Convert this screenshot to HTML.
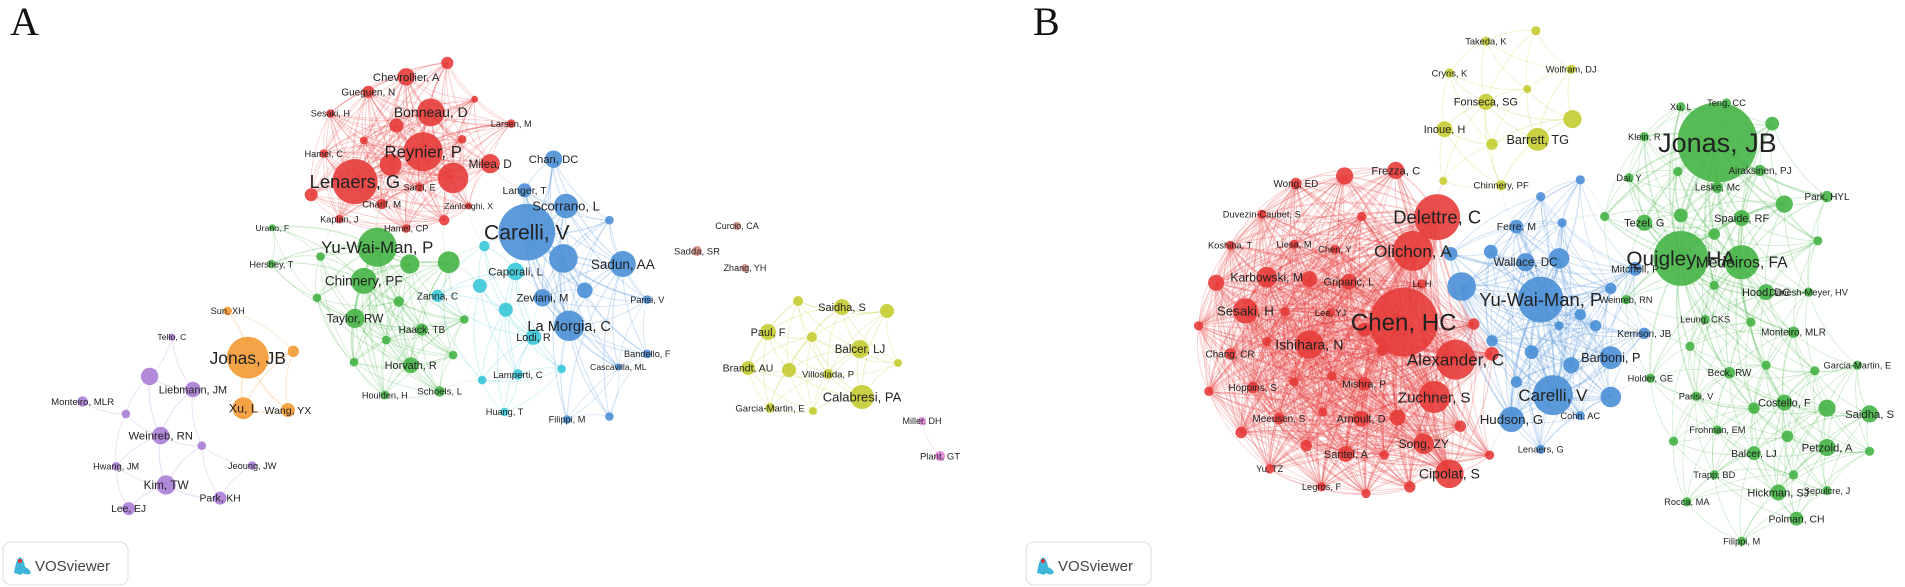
<!DOCTYPE html>
<html><head><meta charset="utf-8">
<style>
html,body{margin:0;padding:0;background:#fff;}
svg{display:block;}
text{font-family:"Liberation Sans","DejaVu Sans",sans-serif;}
</style></head>
<body>
<svg id="chart" width="1905" height="587" viewBox="0 0 1905 587">
<rect width="1905" height="587" fill="#fff"/>
<g id="edges"></g><g id="nodes"></g><g id="labels"></g>
<text x="10" y="35" font-size="40" fill="#111" style="font-family:'Liberation Serif',serif">A</text>
<text x="1033" y="35" font-size="40" fill="#111" style="font-family:'Liberation Serif',serif">B</text>
<g>
<rect x="3" y="542" width="125" height="43" rx="8" fill="#fff" stroke="#ddd"/>
<path d="M14 573 q2 -14 6 -16 q4 2 5 10 q5 2 6 6 q-4 3 -8 0 q-2 3 -5 1 z" fill="#3fb5d9"/>
<circle cx="20" cy="561" r="2" fill="#e33"/>
<text x="35" y="571" font-size="15" fill="#444">VOSviewer</text></g>
<g>
<rect x="1026" y="542" width="125" height="43" rx="8" fill="#fff" stroke="#ddd"/>
<path d="M1037 573 q2 -14 6 -16 q4 2 5 10 q5 2 6 6 q-4 3 -8 0 q-2 3 -5 1 z" fill="#3fb5d9"/>
<circle cx="1043" cy="561" r="2" fill="#e33"/>
<text x="1058" y="571" font-size="15" fill="#444">VOSviewer</text></g>
</svg>
<script>
// Panel A nodes (measured in zoom frame 1): [label, x, y, r, cluster]
const nodesA1 = [
["",1002,168,14,"red"],["Chevrollier, A",910,205,20,"red"],["Gueguen, N",825,245,14,"red"],["Sesaki, H",740,303,10,"red"],
["Bonneau, D",965,300,32,"red"],["",888,335,16,"red"],["",1063,265,8,"red"],["Larsen, M",1145,330,10,"red"],["",815,375,9,"red"],
["Reynier, P",948,405,45,"red"],["",875,440,25,"red"],["",1015,475,35,"red"],["Milea, D",1098,437,22,"red"],["Hamel, C",725,410,10,"red"],
["Lenaers, G",795,485,52,"red"],["",697,520,15,"red"],["Sarzi, E",940,500,10,"red"],["Charif, M",855,545,12,"red"],["",1035,372,10,"red"],
["Kaplan, J",760,585,10,"red"],["",995,588,12,"red"],["Hamel, CP",910,610,10,"red"],["Zanlonghi, X",1050,550,8,"red"],
["Carelli, V",1180,620,65,"blue"],["Chan, DC",1240,425,20,"blue"],["Langer, T",1175,508,16,"blue"],["Scorrano, L",1268,550,28,"blue"],
["",1365,588,10,"blue"],["",1262,690,33,"blue"],["Sadun, AA",1395,705,30,"blue"],["",1310,775,18,"blue"],["Zeviani, M",1215,795,20,"blue"],
["La Morgia, C",1275,870,35,"blue"],["Parisi, V",1450,800,10,"blue"],["Bandello, F",1450,945,10,"blue"],["",1365,1112,10,"blue"],
["Filippi, M",1270,1120,10,"blue"],["Cascavilla, ML",1385,980,8,"blue"],
["Caporali, L",1155,725,20,"cyan"],["",1085,657,12,"cyan"],["",1075,763,16,"cyan"],["",1133,827,16,"cyan"],["Zanna, C",980,790,14,"cyan"],
["Lodi, R",1195,900,18,"cyan"],["",1080,1015,10,"cyan"],["Huang, T",1130,1100,10,"cyan"],["",1258,985,10,"cyan"],["Lamperti, C",1160,1000,12,"cyan"],
["Yu-Wai-Man, P",845,660,45,"green"],["",918,705,22,"green"],["",1005,700,25,"green"],["Chinnery, PF",815,750,30,"green"],["",718,685,10,"green"],
["Hershey, T",608,705,10,"green"],["Urano, F",610,608,8,"green"],["",710,795,10,"green"],["",893,805,12,"green"],["Taylor, RW",795,850,22,"green"],
["Haack, TB",945,880,14,"green"],["",865,908,10,"green"],["",1040,853,10,"green"],["",793,967,10,"green"],["Horvath, R",920,975,18,"green"],
["",1015,948,10,"green"],["Houlden, H",862,1055,10,"green"],["Schoels, L",985,1045,12,"green"],
["Jonas, JB",555,955,48,"orange"],["",657,938,13,"orange"],["Sun, XH",510,830,10,"orange"],["Xu, L",545,1090,25,"orange"],["Wang, YX",645,1095,16,"orange"],
["",335,1005,20,"purple"],["Tello, C",385,900,8,"purple"],["Liebmann, JM",432,1040,18,"purple"],["Monteiro, MLR",185,1072,12,"purple"],
["",282,1105,10,"purple"],["Weinreb, RN",360,1163,20,"purple"],["",452,1190,10,"purple"],["Hwang, JM",260,1245,10,"purple"],
["Jeoung, JW",565,1243,10,"purple"],["Kim, TW",372,1295,22,"purple"],["Park, KH",493,1330,15,"purple"],["Lee, EJ",288,1358,15,"purple"]
];
// Panel A right part (original pixel frame)
const nodesA2 = [
["Sadda, SR",697,251,5,"salmon"],["Curcio, CA",737,226,4,"salmon"],["Zhang, YH",745,268,4,"salmon"],
["",798,301,5,"yellow"],["Saidha, S",842,307,8,"yellow"],["",887,311,7,"yellow"],["Paul, F",768,332,8,"yellow"],["",812,337,5,"yellow"],
["Balcer, LJ",860,349,9,"yellow"],["Brandt, AU",748,368,7,"yellow"],["",789,370,7,"yellow"],["Villoslada, P",828,374,5,"yellow"],
["",898,363,4,"yellow"],["Calabresi, PA",862,397,12,"yellow"],["Garcia-Martin, E",770,408,5,"yellow"],["",813,411,4,"yellow"],
["Miller, DH",922,421,4,"pink"],["Plant, GT",940,456,5,"pink"]
];
// Panel B nodes (zoom frame 2)
const nodesB = [
["",962,82,8,"yellow"],["Takeda, K",880,110,8,"yellow"],["Cryns, K",820,195,8,"yellow"],["Wolfram, DJ",1020,185,8,"yellow"],["",948,238,7,"yellow"],
["Fonseca, SG",880,272,14,"yellow"],["",1022,318,16,"yellow"],["Inoue, H",812,345,14,"yellow"],["Barrett, TG",965,372,20,"yellow"],["",890,385,10,"yellow"],
["",810,483,7,"yellow"],["Chinnery, PF",905,495,9,"yellow"],
["Jonas, JB",1260,380,70,"green"],["Xu, L",1200,285,8,"green"],["Teng, CC",1275,275,8,"green"],["Klein, R",1140,365,8,"green"],["",1350,330,12,"green"],
["Airaksinen, PJ",1330,455,10,"green"],["",1195,458,8,"green"],["Dai, Y",1115,475,8,"green"],["Leske, Mc",1260,500,10,"green"],["",1370,545,15,"green"],
["Park, HYL",1440,525,10,"green"],["",1200,575,12,"green"],["",1075,578,8,"green"],["Tezel, G",1140,595,14,"green"],["Spaide, RF",1300,582,14,"green"],
["",1255,625,10,"green"],["Quigley, HA",1200,690,48,"green"],["Medeiros, FA",1300,700,30,"green"],["",1425,643,8,"green"],["",1255,762,8,"green"],
["Weinreb, RN",1110,800,8,"green"],["Hood, DC",1340,780,14,"green"],["Danesh-Meyer, HV",1410,780,8,"green"],["Leung, CKS",1240,853,8,"green"],
["",1315,860,8,"green"],["Monteiro, MLR",1385,887,10,"green"],["",1215,925,8,"green"],["",1340,975,8,"green"],["Beck, RW",1280,995,10,"green"],
["",1420,990,8,"green"],["Garcia-Martin, E",1490,975,8,"green"],["Holder, GE",1150,1010,8,"green"],["Parisi, V",1225,1058,8,"green"],
["",1320,1090,10,"green"],["Costello, F",1370,1075,14,"green"],["",1440,1090,15,"green"],["Saidha, S",1510,1105,15,"green"],["",1188,1178,8,"green"],
["Frohman, EM",1260,1148,8,"green"],["",1375,1165,10,"green"],["Balcer, LJ",1320,1210,12,"green"],["Petzold, A",1440,1195,15,"green"],["",1510,1205,8,"green"],
["",1385,1268,8,"green"],["Trapp, BD",1255,1268,8,"green"],["Hickman, SJ",1360,1315,14,"green"],["Sepulcre, J",1440,1310,8,"green"],
["Rocca, MA",1210,1340,8,"green"],["Polman, CH",1390,1385,12,"green"],["Filippi, M",1300,1445,8,"green"],
["Yu-Wai-Man, P",970,800,40,"blue"],["",840,765,25,"blue"],["Carelli, V",990,1055,35,"blue"],["",1035,480,8,"blue"],["",970,525,8,"blue"],
["",1005,595,8,"blue"],["Ferre, M",930,605,12,"blue"],["",822,678,12,"blue"],["",888,672,12,"blue"],["Wallace, DC",945,700,16,"blue"],
["",1000,690,18,"blue"],["Mitchell, P",1125,718,12,"blue"],["",1085,770,10,"blue"],["",1035,840,10,"blue"],["",1000,870,8,"blue"],
["",1060,870,10,"blue"],["Kerrison, JB",1140,890,10,"blue"],["",955,940,12,"blue"],["Barboni, P",1085,955,20,"blue"],["",1020,975,14,"blue"],
["",930,1020,10,"blue"],["",1085,1060,18,"blue"],["Hudson, G",922,1120,22,"blue"],["Cohn, AC",1035,1110,8,"blue"],["Lenaers, G",970,1200,8,"blue"],["",890,910,10,"blue"],
["Chen, HC",745,860,60,"red"],["Delettre, C",800,580,40,"red"],["Olichon, A",760,670,35,"red"],["Alexander, C",830,960,35,"red"],
["Zuchner, S",795,1060,28,"red"],["Cipolat, S",820,1265,25,"red"],["Frezza, C",732,455,15,"red"],["",648,470,15,"red"],["Wong, ED",568,490,10,"red"],
["Duvezin-Caubet, S",512,572,8,"red"],["",676,578,8,"red"],["Koshiba, T",460,655,8,"red"],["Liesa, M",565,652,8,"red"],["Chen, Y",632,665,8,"red"],
["",590,745,14,"red"],["Karbowski, M",520,740,18,"red"],["",437,755,14,"red"],["Griparic, L",655,752,14,"red"],["Li, H",775,758,8,"red"],
["Sesaki, H",485,830,22,"red"],["",550,832,8,"red"],["Lee, YJ",625,835,8,"red"],["",408,870,8,"red"],["Ishihara, N",590,920,25,"red"],
["Chang, CR",460,945,10,"red"],["",710,935,10,"red"],["",890,945,12,"red"],["",860,865,10,"red"],["",520,912,8,"red"],["",425,1045,8,"red"],
["Hoppins, S",497,1035,10,"red"],["Mishra, P",680,1025,12,"red"],["",565,1020,8,"red"],["",627,1005,8,"red"],["Meeusen, S",540,1118,10,"red"],
["Arnoult, D",675,1118,14,"red"],["",612,1100,8,"red"],["Song, ZY",778,1185,18,"red"],["Santel, A",650,1212,14,"red"],["",585,1190,10,"red"],
["",713,1215,8,"red"],["",838,1138,10,"red"],["",886,1215,8,"red"],["Yu, TZ",525,1252,8,"red"],["Legros, F",610,1300,8,"red"],
["",683,1318,8,"red"],["",755,1300,10,"red"],["",680,880,12,"red"],["",478,1155,10,"red"],["",735,1115,14,"red"]
];
const clusterColor = {red:"#e63c3a",blue:"#4a8fd6",cyan:"#38c6d8",green:"#45b445",orange:"#f39a32",purple:"#ab7dd6",yellow:"#c5cc31",salmon:"#d18a7e",pink:"#e07ed9"};
const edgeRangeA = {red:150,blue:120,cyan:110,green:120,orange:90,purple:70,yellow:90,salmon:40,pink:45};
const edgeRangeB = {red:210,blue:130,cyan:110,green:110,orange:90,purple:70,yellow:90,salmon:40,pink:45};

// scales
const sxA1 = v => v/2.24, syA1 = v => v/2.67, srA1 = v => v/2.3;
const sxB = v => 950 + v/1.642, syB = v => v/2.67, srB = v => v/1.75;

function build(list, sx, sy, sr, panel){
  return list.map(n => ({label:n[0], x:sx(n[1]), y:sy(n[2]), r:sr(n[3]), c:n[4], p:panel}));
}
const all = [].concat(
  build(nodesA1, sxA1, syA1, srA1, "a"),
  build(nodesA2, v=>v, v=>v, v=>v, "a"),
  build(nodesB, sxB, syB, srB, "b")
);
const NS = "http://www.w3.org/2000/svg";
const gE = document.getElementById("edges"), gN = document.getElementById("nodes"), gL = document.getElementById("labels");

for (let i=0;i<all.length;i++){
  for (let j=i+1;j<all.length;j++){
    const a=all[i], b=all[j];
    if (a.p!==b.p) continue;
    const d = Math.hypot(a.x-b.x, a.y-b.y);
    const same = a.c===b.c;
    const ranges = a.p==="a" ? edgeRangeA : edgeRangeB;
    let lim = same ? ranges[a.c] : 45;
    if (same && (a.r>12 || b.r>12)) lim *= 1.4;
    if (d>lim) continue;
    const mx=(a.x+b.x)/2, my=(a.y+b.y)/2;
    const bend = 0.15*d;
    const nx=-(b.y-a.y)/(d||1), ny=(b.x-a.x)/(d||1);
    const path = document.createElementNS(NS,"path");
    path.setAttribute("d",`M${a.x.toFixed(1)} ${a.y.toFixed(1)} Q${(mx+nx*bend).toFixed(1)} ${(my+ny*bend).toFixed(1)} ${b.x.toFixed(1)} ${b.y.toFixed(1)}`);
    path.setAttribute("fill","none");
    path.setAttribute("stroke", clusterColor[a.r>=b.r?a.c:b.c]);
    path.setAttribute("stroke-opacity", same ? "0.25" : "0.12");
    path.setAttribute("stroke-width", (0.5 + (a.r+b.r)/30).toFixed(2));
    
    
    gE.appendChild(path);
  }
}
all.forEach(n => {
  const c = document.createElementNS(NS,"circle");
  c.setAttribute("cx",n.x.toFixed(1)); c.setAttribute("cy",n.y.toFixed(1)); c.setAttribute("r",n.r.toFixed(1));
  c.setAttribute("fill",clusterColor[n.c]); c.setAttribute("fill-opacity","0.9");
  
  
  gN.appendChild(c);
  if (n.label){
    const t = document.createElementNS(NS,"text");
    const fs = Math.min(28, 7 + n.r*0.5);
    t.setAttribute("x",n.x.toFixed(1)); t.setAttribute("y",(n.y+fs*0.35).toFixed(1));
    t.setAttribute("text-anchor","middle"); t.setAttribute("font-size",fs.toFixed(1));
    t.setAttribute("fill","#222");
    t.textContent = n.label;
    
    
    gL.appendChild(t);
  }
});
</script>
</body></html>
